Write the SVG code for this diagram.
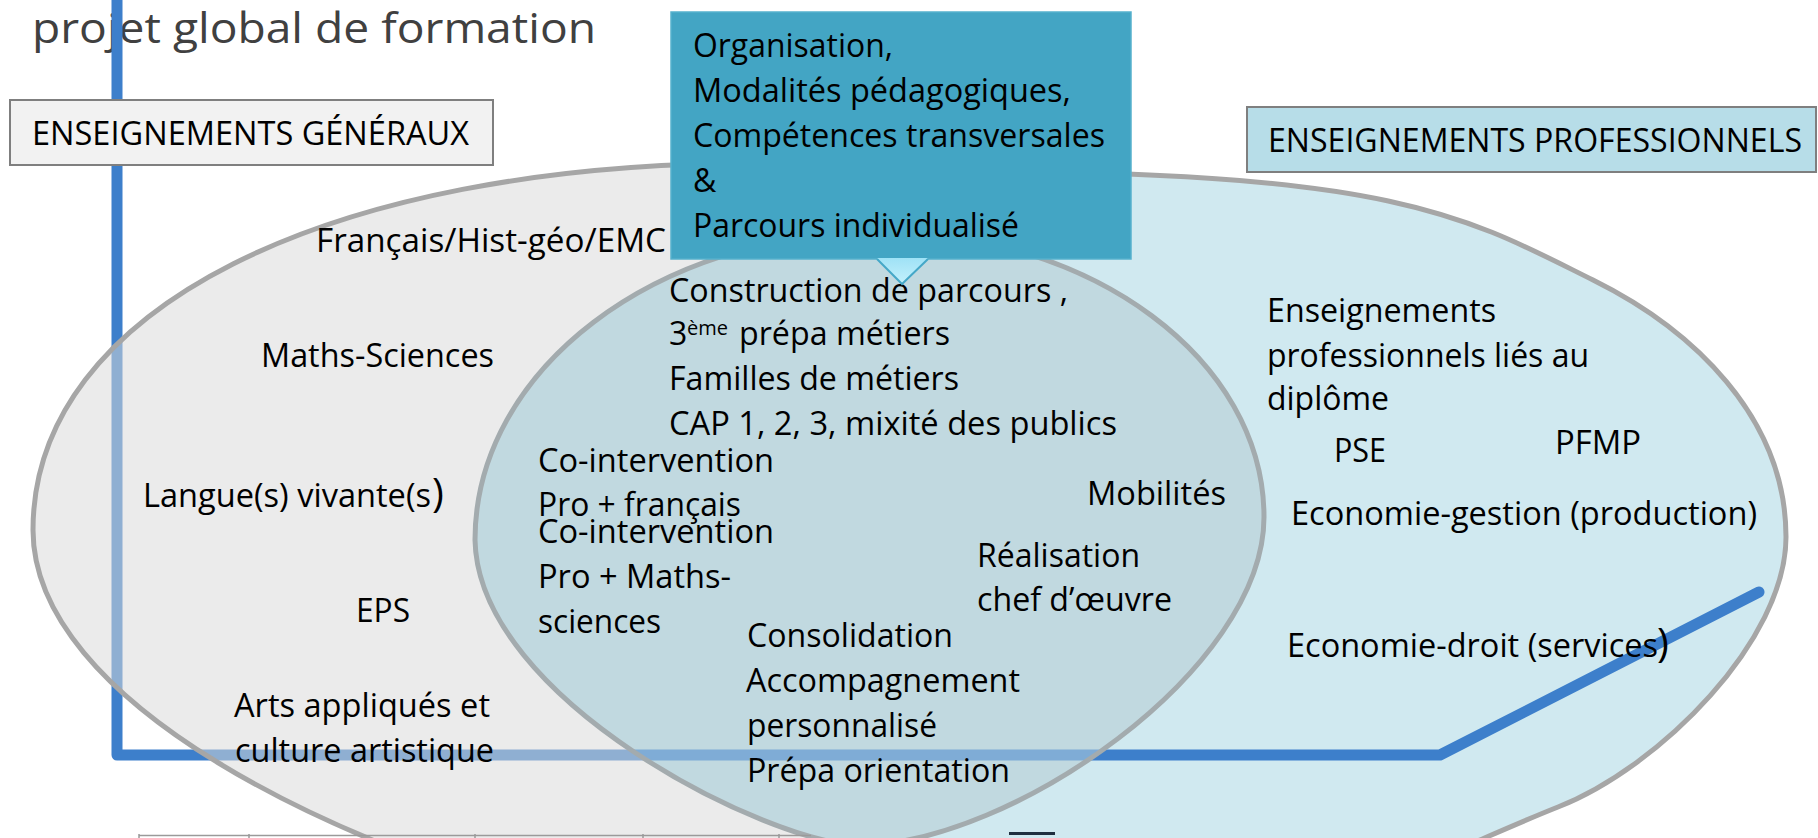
<svg xmlns="http://www.w3.org/2000/svg" width="1818" height="838" viewBox="0 0 1818 838">
<defs>
<style>
.t{font-family:"Open Sans","Liberation Sans",sans-serif;font-size:32px;fill:#000}
.big{font-family:"Open Sans","Liberation Sans",sans-serif;font-size:40px;fill:#000}
.sup{font-family:"Open Sans","Liberation Sans",sans-serif;font-size:20px;fill:#000}
.title{font-family:"Open Sans","Liberation Sans",sans-serif;font-weight:400;font-size:42px;fill:#404040}
.outline{stroke:#a6a6a6;stroke-width:5}
.label{stroke:#7f7f7f;stroke-width:2}
.blue{fill:none;stroke:#3d7fcb;stroke-width:11;stroke-linejoin:round;stroke-linecap:round}
</style>
<path id="midPath" d="M475,540 C475,370 656,232 880,232 C1092,232 1264,360 1264,517 C1264,670 1010,845 860,845 C770,845 478,700 475,540 Z"/>
<clipPath id="midClip"><use href="#midPath"/></clipPath>
<linearGradient id="tri" x1="0" y1="0" x2="0" y2="1"><stop offset="0" stop-color="#9fe2f6"/><stop offset="1" stop-color="#c4f1fc"/></linearGradient>
</defs>
<rect width="1818" height="838" fill="#ffffff"/>

<g id="title"><text class="title" x="32" y="43" textLength="564" lengthAdjust="spacingAndGlyphs">projet global de formation</text></g>

<g id="zone-professionnelle"><path class="outline" fill="#d0e9f0" d="M1000,172 C1400,172 1476,222 1593,280 C1692,329 1786,417 1786,537 C1786,640 1660,767 1558,807 C1465,844 1380,890 1300,900 L840,900 L840,172 Z"/></g>

<g id="connectors"><path class="blue" d="M117,-10 L117,755 L1440,755 L1759,592"/></g>

<g id="zone-generale"><path class="outline" fill="#d9d9d9" fill-opacity="0.53" d="M760,163 C324,163 33,310 33,530 C33,700 330,850 620,920 L860,920 L880,500 L900,240 Z"/></g>

<g id="zone-commune">
<use href="#midPath" fill="#c1d9e0"/>
<path d="M100,755 L1440,755" stroke="#3d7fcb" stroke-width="11" stroke-opacity="0.5" clip-path="url(#midClip)"/>
<use href="#midPath" fill="none" stroke="#a3abae" stroke-width="5"/>
</g>

<g id="items-generaux">
<text class="t" x="316" y="252" textLength="350" lengthAdjust="spacingAndGlyphs">Français/Hist-géo/EMC</text>
<text class="t" x="261" y="367" textLength="233" lengthAdjust="spacingAndGlyphs">Maths-Sciences</text>
<text class="t" x="143" y="507" textLength="288" lengthAdjust="spacingAndGlyphs">Langue(s) vivante(s</text>
<text class="big" x="432" y="507">)</text>
<text class="t" x="356" y="622" textLength="54" lengthAdjust="spacingAndGlyphs">EPS</text>
<text class="t" x="234" y="717" textLength="256" lengthAdjust="spacingAndGlyphs">Arts appliqués et</text>
<text class="t" x="235" y="762" textLength="259" lengthAdjust="spacingAndGlyphs">culture artistique</text>
</g>

<g id="items-communs">
<text class="t" x="669" y="302" textLength="399" lengthAdjust="spacingAndGlyphs">Construction de parcours ,</text>
<text class="t" x="669" y="345">3</text>
<text class="sup" x="687" y="335">ème</text>
<text class="t" x="739" y="345" textLength="211" lengthAdjust="spacingAndGlyphs">prépa métiers</text>
<text class="t" x="669" y="390" textLength="290" lengthAdjust="spacingAndGlyphs">Familles de métiers</text>
<text class="t" x="669" y="435" textLength="448" lengthAdjust="spacingAndGlyphs">CAP 1, 2, 3, mixité des publics</text>
<text class="t" x="538" y="472" textLength="236" lengthAdjust="spacingAndGlyphs">Co-intervention</text>
<text class="t" x="538" y="516" textLength="203" lengthAdjust="spacingAndGlyphs">Pro + français</text>
<text class="t" x="538" y="543" textLength="236" lengthAdjust="spacingAndGlyphs">Co-intervention</text>
<text class="t" x="538" y="588" textLength="193" lengthAdjust="spacingAndGlyphs">Pro + Maths-</text>
<text class="t" x="538" y="633" textLength="123" lengthAdjust="spacingAndGlyphs">sciences</text>
<text class="t" x="1087" y="505" textLength="139" lengthAdjust="spacingAndGlyphs">Mobilités</text>
<text class="t" x="977" y="567" textLength="163" lengthAdjust="spacingAndGlyphs">Réalisation</text>
<text class="t" x="977" y="611" textLength="195" lengthAdjust="spacingAndGlyphs">chef d’œuvre</text>
<text class="t" x="747" y="647" textLength="206" lengthAdjust="spacingAndGlyphs">Consolidation</text>
<text class="t" x="746" y="692" textLength="274" lengthAdjust="spacingAndGlyphs">Accompagnement</text>
<text class="t" x="747" y="737" textLength="190" lengthAdjust="spacingAndGlyphs">personnalisé</text>
<text class="t" x="747" y="782" textLength="263" lengthAdjust="spacingAndGlyphs">Prépa orientation</text>
</g>

<g id="items-professionnels">
<text class="t" x="1267" y="322" textLength="229" lengthAdjust="spacingAndGlyphs">Enseignements</text>
<text class="t" x="1267" y="367" textLength="322" lengthAdjust="spacingAndGlyphs">professionnels liés au</text>
<text class="t" x="1267" y="410" textLength="122" lengthAdjust="spacingAndGlyphs">diplôme</text>
<text class="t" x="1334" y="462" textLength="52" lengthAdjust="spacingAndGlyphs">PSE</text>
<text class="t" x="1555" y="454" textLength="86" lengthAdjust="spacingAndGlyphs">PFMP</text>
<text class="t" x="1291" y="525" textLength="466" lengthAdjust="spacingAndGlyphs">Economie-gestion (production)</text>
<text class="t" x="1287" y="657" textLength="371" lengthAdjust="spacingAndGlyphs">Economie-droit (services</text>
<text class="big" x="1657" y="657">)</text>
</g>

<g id="callout">
<rect x="671" y="12" width="460" height="247" fill="#43a5c4" stroke="#55b1cd" stroke-width="1.5"/>
<polygon points="877,258 928,258 902,284" fill="url(#tri)"/>
<path d="M877,259 L902,284 L928,259" fill="none" stroke="#45a8c8" stroke-width="2"/>
<text class="t" x="693" y="57" textLength="200" lengthAdjust="spacingAndGlyphs">Organisation,</text>
<text class="t" x="693" y="102" textLength="378" lengthAdjust="spacingAndGlyphs">Modalités pédagogiques,</text>
<text class="t" x="693" y="147" textLength="412" lengthAdjust="spacingAndGlyphs">Compétences transversales</text>
<text class="t" x="693" y="192">&amp;</text>
<text class="t" x="693" y="237" textLength="326" lengthAdjust="spacingAndGlyphs">Parcours individualisé</text>
</g>

<g id="label-generaux">
<rect class="label" x="10" y="100" width="483" height="65" fill="#f2f2f2"/>
<text class="t" x="32" y="145" textLength="437" lengthAdjust="spacingAndGlyphs">ENSEIGNEMENTS GÉNÉRAUX</text>
</g>

<g id="label-professionnels">
<rect class="label" x="1247" y="107" width="569" height="65" fill="#b7dde8"/>
<text class="t" x="1268" y="152" textLength="534" lengthAdjust="spacingAndGlyphs">ENSEIGNEMENTS PROFESSIONNELS</text>
</g>

<g id="bottom-edge">
<path d="M139,835.5 L811,835.5 M139,834 L139,838 M249,834 L249,838 M475,834 L475,838 M643,834 L643,838 M779,834 L779,838" stroke="#9a9a9a" stroke-width="1.5" fill="none"/>
<rect x="1009" y="832" width="46" height="3" fill="#1f2f3f"/>
</g>
</svg>
